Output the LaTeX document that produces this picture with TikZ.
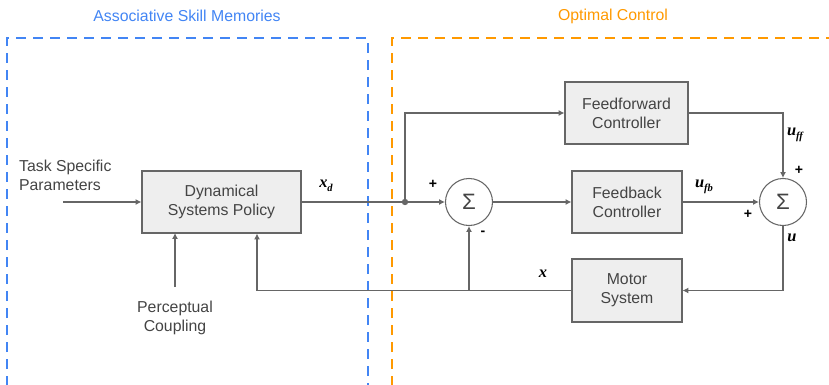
\documentclass[tikz,border=0pt]{standalone}
\usepackage{fontspec}
\setmainfont{Liberation Sans}
\newfontfamily\varfont{Liberation Serif}
\usetikzlibrary{arrows.meta}
\definecolor{linegray}{HTML}{666666}
\definecolor{textgray}{HTML}{444444}
\definecolor{boxfill}{HTML}{EEEEEE}
\definecolor{asmblue}{HTML}{4285F4}
\definecolor{ocorange}{HTML}{FF9900}
\newcommand{\var}[2]{{\varfont\bfseries\itshape #1\raisebox{-0.5ex}{\fontsize{9}{9}\selectfont #2}}}

\begin{document}
\begin{tikzpicture}[x=0.03cm, y=-0.03cm,
  every node/.style={font=\fontsize{13.5}{16}\selectfont, text=textgray},
  block/.style={draw=linegray, fill=boxfill, line width=0.9pt, inner sep=0pt},
  sumnode/.style={draw=linegray, circle, line width=0.9pt, minimum size=1.41cm, inner sep=0pt,
    font=\fontsize{19}{19}\selectfont},
  region/.style={line width=1.8pt, dash pattern=on 0.3cm off 0.21cm},
  wire/.style={draw=linegray, line width=0.9pt},
  sig/.style={wire, -{Latex[length=5pt,width=5pt]}},
  mlabel/.style={text=black, font=\fontsize{14}{16}\selectfont},
  signlabel/.style={text=black, font=\fontsize{12}{12}\selectfont\bfseries}]
  \useasboundingbox (0,0) rectangle (829,384);

  % regions
  \draw[region, asmblue] (7,386) |- (368,38) -- (368,386);
  \draw[region, ocorange] (392,386) |- (835,38);
  \node[text=asmblue] (asmtitle) at (187,16) {Associative Skill Memories};
  \node[text=ocorange] (octitle) at (613,16) {Optimal Control};

  % blocks
  \node[block, minimum width=159*0.03cm, minimum height=62*0.03cm, align=center] (dsp) at (221.5,202) {Dynamical\\Systems Policy};
  \node[block, minimum width=123*0.03cm, minimum height=62*0.03cm, align=center] (ff) at (626.5,113) {Feedforward\\Controller};
  \node[block, minimum width=110*0.03cm, minimum height=62*0.03cm, align=center] (fb) at (627,202) {Feedback\\Controller};
  \node[block, minimum width=110*0.03cm, minimum height=63*0.03cm, align=center] (motor) at (627,290.5) {Motor\\System};
  \node[sumnode] (sum1) at (469,202) {Σ};
  \node[sumnode] (sum2) at (783,202) {Σ};

  % inputs
  \node[align=left, anchor=west] (task) at (15,175) {Task Specific\\Parameters};
  \node[align=center] (percept) at (175,318) {Perceptual\\Coupling};
  \coordinate (taskin) at (63,202);
  \coordinate (perin) at (175,287);
  \coordinate (split) at (405,202);
  \coordinate (xtap) at (469,290.5);
  \coordinate (xback) at (257,290.5);

  % connectors
  \draw[sig] (taskin) -- (dsp.west);
  \draw[sig] (perin) -- (175,233);
  \draw[wire] (dsp.east) -- (split);
  \draw[sig] (split) -- (sum1.west);
  \fill[linegray] (split) circle (3.2);
  \draw[sig] (split) |- (ff.west);
  \draw[sig] (sum1.east) -- (fb.west);
  \draw[sig] (fb.east) -- (sum2.west);
  \draw[sig] (ff.east) -| (sum2.north);
  \draw[sig] (sum2.south) |- (motor.east);
  \draw[wire] (motor.west) -- (xtap);
  \draw[sig] (xtap) -- (sum1.south);
  \draw[sig] (xtap) -- (xback) -- (xback |- dsp.south);

  % signal labels
  \node[mlabel] (xd) at (326,186) {\var{x}{d}};
  \node[mlabel] (uff) at (795,135) {\var{u}{ff}};
  \node[mlabel] (ufb) at (704,187) {\var{u}{fb}};
  \node[mlabel] (u) at (792,240) {\var{u}{}};
  \node[mlabel] (x) at (543,276) {\var{x}{}};
  \node[signlabel] (p1) at (433,184) {+};
  \node[signlabel] (m1) at (483,233) {-};
  \node[signlabel] (p2) at (799,170) {+};
  \node[signlabel] (p3) at (748,214) {+};
\end{tikzpicture}
\end{document}
